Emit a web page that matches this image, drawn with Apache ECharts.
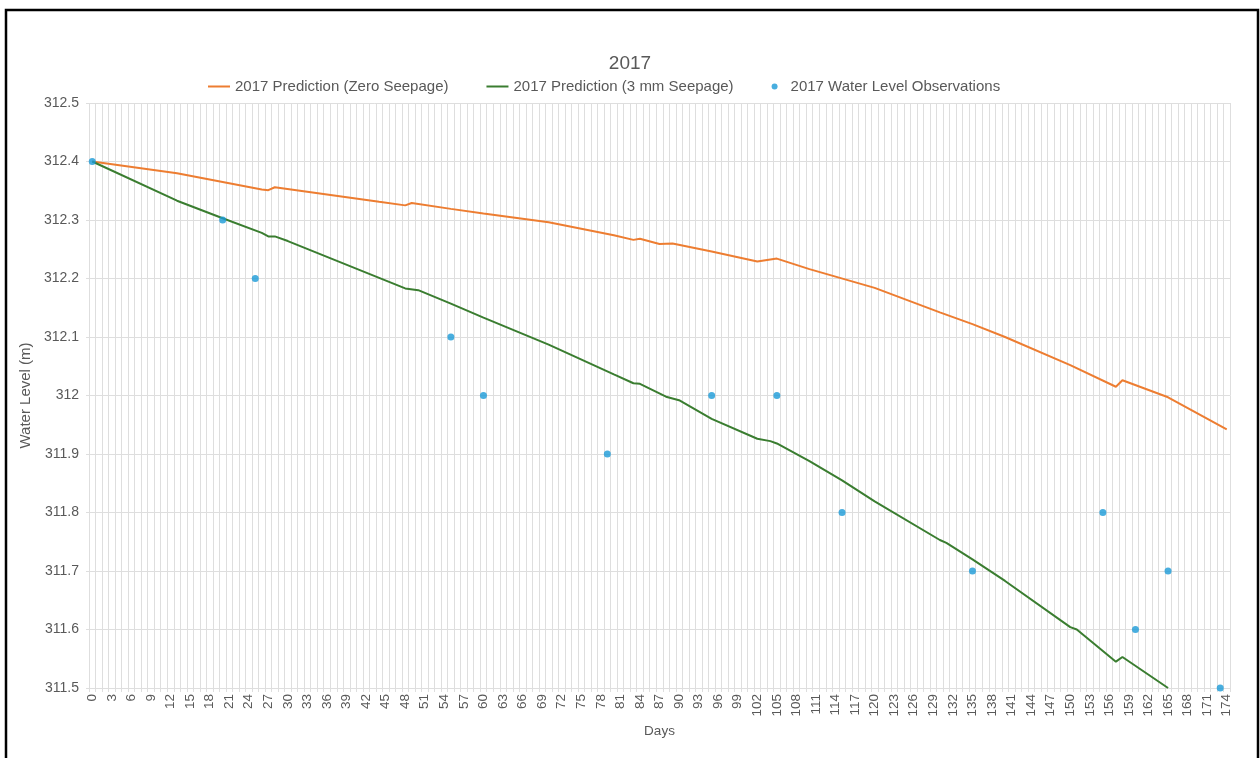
<!DOCTYPE html>
<html>
<head>
<meta charset="utf-8">
<script src="https://cdn.jsdelivr.net/npm/echarts@6/dist/echarts.min.js"></script>
<style>
html,body{margin:0;padding:0;background:#fff;}
#chart{width:1260px;height:758px;}
</style>
</head>
<body>
<div id="chart"></div>
<script>
// Categories: days 0..174
var days = [];
for (var i = 0; i <= 174; i++) days.push(String(i));

// 2017 Prediction (Zero Seepage): [day, level]
var zeroSeepage = [
  [0, 312.400], [13, 312.380], [26, 312.352], [27, 312.351], [28, 312.356],
  [44, 312.331], [48, 312.325], [49, 312.329], [55, 312.319], [60, 312.311],
  [70, 312.296], [80, 312.274], [83, 312.266], [84, 312.268], [87, 312.259],
  [89, 312.260], [95, 312.246], [102, 312.229], [105, 312.234], [110, 312.216],
  [120, 312.184], [130, 312.142], [135, 312.122], [140, 312.100], [150, 312.052],
  [157, 312.015], [158, 312.026], [165, 311.997], [174, 311.942]
];

// 2017 Prediction (3 mm Seepage): [day, level]
var mmSeepage = [
  [0, 312.400], [13, 312.333], [20, 312.303], [26, 312.278], [27, 312.272],
  [28, 312.272], [30, 312.264], [44, 312.201], [48, 312.183], [50, 312.180],
  [55, 312.157], [60, 312.133], [70, 312.087], [80, 312.036], [83, 312.021],
  [84, 312.020], [88, 311.998], [90, 311.992], [95, 311.960], [102, 311.926],
  [104, 311.922], [105, 311.918], [110, 311.888], [115, 311.855], [120, 311.819],
  [130, 311.753], [131, 311.748], [135, 311.720], [140, 311.683], [150, 311.604],
  [151, 311.600], [157, 311.545], [158, 311.553], [165, 311.500]
];

// 2017 Water Level Observations: [day, level]
var observations = [
  [0, 312.4], [20, 312.3], [25, 312.2], [55, 312.1], [60, 312.0], [79, 311.9],
  [95, 312.0], [105, 312.0], [115, 311.8], [135, 311.7], [155, 311.8],
  [160, 311.6], [165, 311.7], [173, 311.5]
];

var FONT = 'Liberation Sans, Arial, sans-serif';
var TXT = '#595959';
var GRID = '#dedede';
var LINE_ICON = 'path://M0,0 L22,0 L22,2 L0,2 Z';

var chart = echarts.init(document.getElementById('chart'), null, {renderer: 'canvas'});
chart.setOption({
  backgroundColor: '#fff',
  animation: false,
  textStyle: {fontFamily: FONT},
  graphic: [{
    type: 'rect', silent: true, z: 100,
    shape: {x: 6, y: 10, width: 1252, height: 780},
    style: {fill: 'none', stroke: '#000', lineWidth: 2.5}
  }],
  title: {
    text: '2017', left: 'center', top: 49,
    textStyle: {fontFamily: FONT, fontSize: 19, fontWeight: 'normal', color: TXT}
  },
  legend: {
    left: 203, top: 74, itemGap: 38, itemWidth: 22, itemHeight: 6,
    textStyle: {fontFamily: FONT, fontSize: 15, color: TXT},
    data: [
      {name: '2017 Prediction (Zero Seepage)', icon: LINE_ICON, itemStyle: {color: '#ED7D31'}},
      {name: '2017 Prediction (3 mm Seepage)', icon: LINE_ICON, itemStyle: {color: '#3A7D30'}},
      {name: '2017 Water Level Observations', icon: 'circle', itemStyle: {color: '#1A9AD7'}}
    ]
  },
  grid: {left: 89, right: 30, top: 103, bottom: 70},
  xAxis: {
    type: 'category', data: days, boundaryGap: true,
    name: 'Days', nameLocation: 'middle', nameGap: 32,
    nameTextStyle: {fontFamily: FONT, fontSize: 13.5, color: TXT},
    axisLine: {show: true, lineStyle: {color: GRID}},
    axisTick: {show: true, interval: 0, length: 4, lineStyle: {color: GRID}},
    axisLabel: {interval: 2, rotate: 90, margin: 6, fontSize: 13.5, color: TXT, fontFamily: FONT},
    splitLine: {show: true, interval: 0, lineStyle: {color: GRID}}
  },
  yAxis: {
    type: 'value', min: 311.5, max: 312.5, interval: 0.1,
    name: 'Water Level (m)', nameLocation: 'middle', nameGap: 45,
    nameTextStyle: {fontFamily: FONT, fontSize: 15, color: TXT},
    axisLine: {show: false},
    axisTick: {show: true, length: 3, lineStyle: {color: GRID}},
    axisLabel: {margin: 10, fontSize: 14, color: TXT, fontFamily: FONT,
      formatter: function (v) { return String(Math.round(v * 10) / 10); }},
    splitLine: {show: true, lineStyle: {color: GRID}}
  },
  series: [
    {
      name: '2017 Prediction (Zero Seepage)', type: 'line', data: zeroSeepage,
      showSymbol: false, symbol: 'none', smooth: false, z: 3,
      lineStyle: {color: '#ED7D31', width: 2}, itemStyle: {color: '#ED7D31'}
    },
    {
      name: '2017 Prediction (3 mm Seepage)', type: 'line', data: mmSeepage,
      showSymbol: false, symbol: 'none', smooth: false, z: 3,
      lineStyle: {color: '#3A7D30', width: 2}, itemStyle: {color: '#3A7D30'}
    },
    {
      name: '2017 Water Level Observations', type: 'scatter', data: observations,
      symbol: 'circle', symbolSize: 7, z: 4,
      itemStyle: {color: '#1A9AD7'}
    }
  ]
});
</script>
</body>
</html>
